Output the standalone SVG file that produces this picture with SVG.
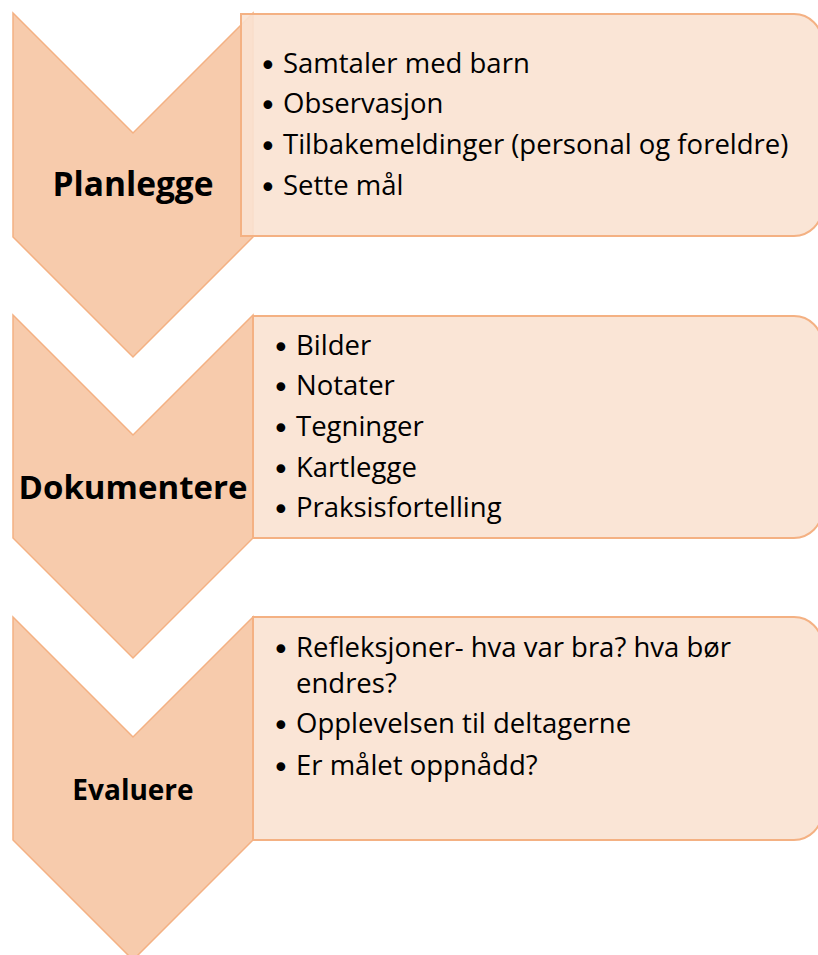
<svg xmlns="http://www.w3.org/2000/svg" width="818" height="955" viewBox="0 0 818 955">
<style>
.chev{fill:#F7CBAC;stroke:#F4B183;stroke-width:1.5;stroke-linejoin:miter}
.box{fill:#FAE2D2;fill-opacity:0.9;stroke:#F4B183;stroke-width:2}
.lbl{font-family:"Open Sans",Lato,sans-serif;font-weight:bold;fill:#000;text-anchor:middle}
.item{font-family:"Open Sans",Lato,sans-serif;font-size:27.5px;fill:#000}
.b{font-family:"DejaVu Sans",sans-serif;font-size:30px;fill:#000}
</style>
<g id="connectors"></g>
<g id="step1">
<polygon class="chev" points="13,13 133,133 253,13 253,237 133,357 13,237"/>
<path class="box" d="M241,14 H794 A28,28 0 0 1 822,42 V208 A28,28 0 0 1 794,236 H241 Z"/>
<text class="lbl" x="133" y="196" font-size="33.5">Planlegge</text>
<text class="b" x="259" y="76">•</text><text class="item" x="283" y="73">Samtaler med barn</text>
<text class="b" x="259" y="116">•</text><text class="item" x="283" y="113">Observasjon</text>
<text class="b" x="259" y="157">•</text><text class="item" x="283" y="154">Tilbakemeldinger (personal og foreldre)</text>
<text class="b" x="259" y="198">•</text><text class="item" x="283" y="195">Sette mål</text>
</g>
<g id="step2">
<polygon class="chev" points="13,315 133,435 253,315 253,538 133,658 13,538"/>
<path class="box" d="M253,316 H794 A28,28 0 0 1 822,344 V510 A28,28 0 0 1 794,538 H253 Z"/>
<text class="lbl" x="133" y="499" font-size="33">Dokumentere</text>
<text class="b" x="272" y="358">•</text><text class="item" x="296" y="355">Bilder</text>
<text class="b" x="272" y="398">•</text><text class="item" x="296" y="395">Notater</text>
<text class="b" x="272" y="439">•</text><text class="item" x="296" y="436">Tegninger</text>
<text class="b" x="272" y="480">•</text><text class="item" x="296" y="477">Kartlegge</text>
<text class="b" x="272" y="520">•</text><text class="item" x="296" y="517">Praksisfortelling</text>
</g>
<g id="step3">
<polygon class="chev" points="13,617 133,737 253,617 253,840 133,960 13,840"/>
<path class="box" d="M253,617 H794 A28,28 0 0 1 822,645 V812 A28,28 0 0 1 794,840 H253 Z"/>
<text class="lbl" x="133" y="800" font-size="28">Evaluere</text>
<text class="b" x="272" y="660">•</text><text class="item" x="296" y="657">Refleksjoner- hva var bra? hva bør</text>
<text class="item" x="296" y="693">endres?</text>
<text class="b" x="272" y="736">•</text><text class="item" x="296" y="733">Opplevelsen til deltagerne</text>
<text class="b" x="272" y="778">•</text><text class="item" x="296" y="775">Er målet oppnådd?</text>
</g>
</svg>
